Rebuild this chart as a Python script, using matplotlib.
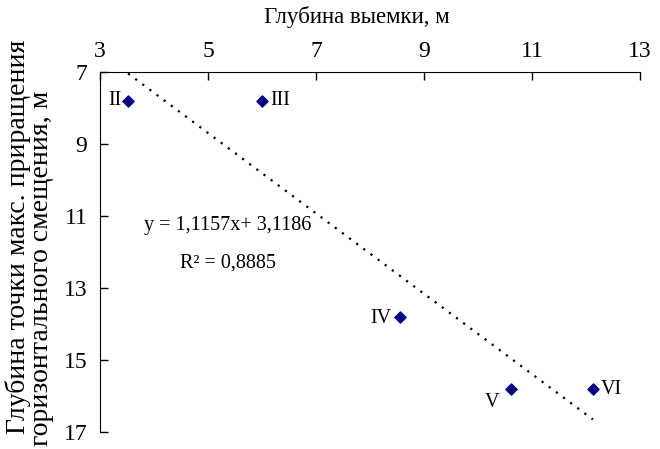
import matplotlib.pyplot as plt
import numpy as np

plt.rcParams['font.family'] = ['Liberation Serif', 'DejaVu Serif']

# data
names = ['II', 'III', 'IV', 'V', 'VI']
depth_cut = [3.52, 6.0, 8.55, 10.62, 12.13]
depth_point = [7.8, 7.8, 13.82, 15.8, 15.82]
slope = 1.1157
intercept = 3.1186
r2 = 0.8885

fig = plt.figure(figsize=(6.6, 4.49), dpi=100)
ax = fig.add_axes([0.1515, 0.038, 0.818, 0.802])

# trend line over data range
xt = np.linspace(min(depth_cut), max(depth_cut), 50)
ax.plot(xt, slope * xt + intercept, color='black', linestyle=(0, (1, 3)), linewidth=1.6)

ax.scatter(depth_cut, depth_point, marker='D', s=32, color='#000080', zorder=3)

# point labels (offset in points)
offsets = {'II': (-5, 0, 'right', 'center'),
           'III': (6, 0, 'left', 'center'),
           'IV': (-6, -1, 'right', 'center'),
           'V': (-9, -10, 'right', 'center'),
           'VI': (6, 0, 'left', 'center')}
for n, x, y in zip(names, depth_cut, depth_point):
    dx, dy, ha, va = offsets[n]
    ax.annotate(n, (x, y), xytext=(dx, dy), textcoords='offset points',
                ha=ha, va=va, fontsize=14.5)

eq = f'y = {slope:.4f}x+ {intercept:.4f}'.replace('.', ',')
ax.text(5.37, 11.28, eq, ha='center', va='center', fontsize=14.5)
ax.text(5.37, 12.3, f'R² = {r2:.4f}'.replace('.', ','),
        ha='center', va='center', fontsize=14.5)

ax.set_xlim(3, 13)
ax.set_ylim(17, 7)
ax.set_xticks([3, 5, 7, 9, 11, 13])
ax.set_yticks([7, 9, 11, 13, 15, 17])
ax.xaxis.tick_top()
ax.xaxis.set_label_position('top')
ax.tick_params(axis='both', direction='in', length=6, labelsize=17, width=1)
ax.tick_params(axis='x', pad=7)
ax.tick_params(axis='y', pad=9)
ax.spines['right'].set_visible(False)
ax.spines['bottom'].set_visible(False)
ax.set_xlabel('Глубина выемки, м', fontsize=16.5)
ax.xaxis.set_label_coords(0.476, 1.135)
ax.xaxis.label.set_va('baseline')

# two-line y label, lines placed separately as in the original
fig.text(18 / 660, 1 - 237 / 449, 'Глубина точки макс. приращения',
         rotation=90, ha='center', va='center', fontsize=20)
fig.text(42 / 660, 1 - 268 / 449, 'горизонтального смещения, м',
         rotation=90, ha='center', va='center', fontsize=20)

fig.savefig('out.png', dpi=100)
